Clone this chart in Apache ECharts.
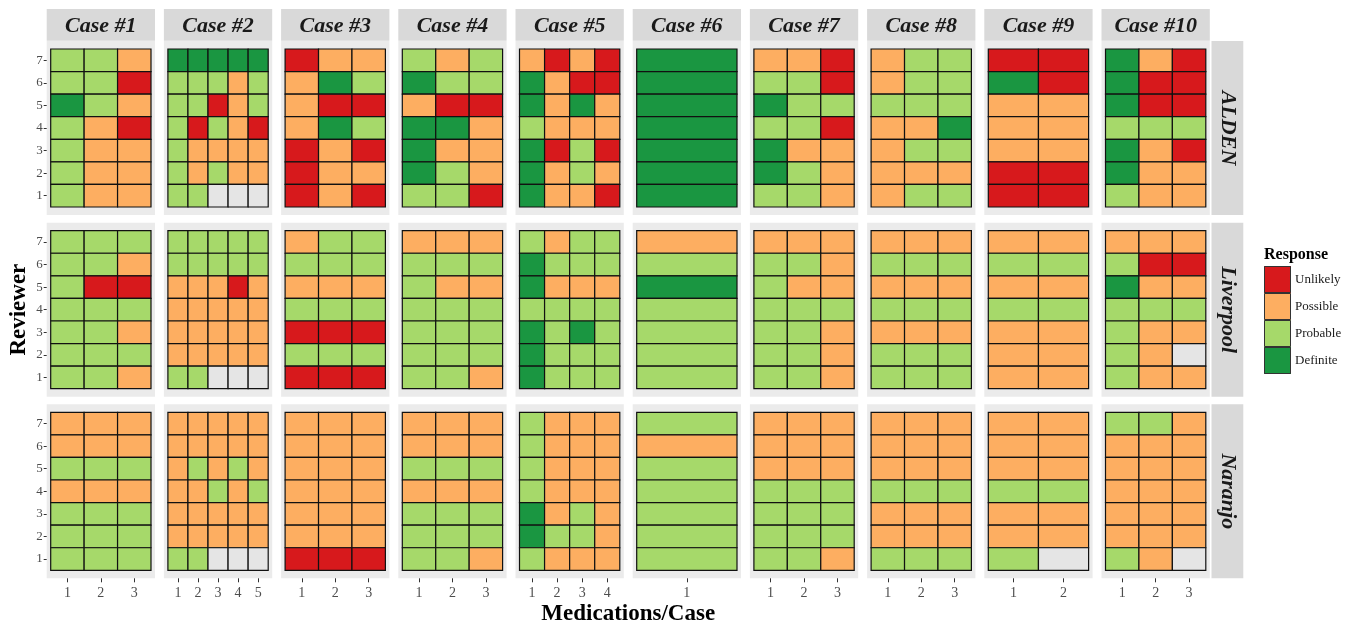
<!DOCTYPE html>
<html>
<head>
<meta charset="utf-8">
<script src="https://cdn.jsdelivr.net/npm/echarts@6/dist/echarts.min.js"></script>
<style>
html,body{margin:0;padding:0;background:#fff;}
#chart{width:1358px;height:629px;}
</style>
</head>
<body>
<div id="chart"></div>
<script>
// ---------------- DATA ----------------
const cases = ['Case #1','Case #2','Case #3','Case #4','Case #5','Case #6','Case #7','Case #8','Case #9','Case #10'];
const tools = ['ALDEN','Liverpool','Naranjo'];
const reviewers = [1,2,3,4,5,6,7];
const responses = ['Unlikely','Possible','Probable','Definite'];
// response codes: U=Unlikely, P=Possible, B=Probable, D=Definite, N=missing
const codeIndex = {U:0, P:1, B:2, D:3, N:4};
// each case: rows for reviewer 7 down to 1, one letter per medication
const aldenData = [
  ['BBP','BBU','DBP','BPU','BPP','BPP','BPP'],
  ['DDDDD','BBBPB','BBUPB','BUBPU','BPPPP','BPBPP','BBNNN'],
  ['UPP','PDB','PUU','PDB','UPU','UPP','UPU'],
  ['BPB','DBB','PUU','DDP','DPP','DBP','BBU'],
  ['PUPU','DPUU','DPDP','BPPP','DUBU','DPBP','DPPU'],
  ['D','D','D','D','D','D','D'],
  ['PPU','BBU','DBB','BBU','DPP','DBP','BBP'],
  ['PBB','PBB','BBB','PPD','PBB','PPP','PBB'],
  ['UU','DU','PP','PP','PP','UU','UU'],
  ['DPU','DUU','DUU','BBB','DPU','DPP','BPP']
];
const liverpoolData = [
  ['BBB','BBP','BUU','BBB','BBP','BBB','BBP'],
  ['BBBBB','BBBBB','PPPUP','PPPPP','PPPPP','PPPPP','BBNNN'],
  ['PBB','BBB','PPP','BBB','UUU','BBB','UUU'],
  ['PPP','BBB','BPP','BBB','BBB','BBB','BBP'],
  ['BPBB','DBBB','DPPP','BBBB','DBDB','DBBB','DBBB'],
  ['P','B','D','B','B','B','B'],
  ['PPP','BBP','BPP','BBB','BBP','BBP','BBP'],
  ['PPP','BBB','PPP','BBB','PPP','BBB','BBB'],
  ['PP','BB','PP','BB','PP','PP','PP'],
  ['PPP','BUU','DPP','BBB','BPP','BPN','BPP']
];
const naranjoData = [
  ['PPP','PPP','BBB','PPP','BBB','BBB','BBB'],
  ['PPPPP','PPPPP','PBPBP','PPBPB','PPPPP','PPPPP','BBNNN'],
  ['PPP','PPP','PPP','PPP','PPP','PPP','UUU'],
  ['PPP','PPP','BBB','PPP','BBB','BBB','BBP'],
  ['BPPP','BPPP','BPPP','BPPP','DPBP','DBBP','BPPP'],
  ['B','P','B','B','B','B','B'],
  ['PPP','PPP','PPP','BBB','BBB','BBB','BBP'],
  ['PPP','PPP','PPP','BBB','PPP','PPP','BBB'],
  ['PP','PP','PP','BB','PP','PP','BN'],
  ['BBP','PPP','PPP','PPP','PPP','PPP','BPN']
];
const medCounts = [3,5,3,3,4,1,3,3,2,3];
const toolData = [aldenData, liverpoolData, naranjoData];

// ---------------- STYLE / LAYOUT ----------------
const colors = ['#D7191C','#FDAE61','#A6D96A','#1A9641'];
const naColor = '#E5E5E5';
const serif = 'Liberation Serif';
const colLeft0 = 46.7, colPitch = 117.2, panelW = 108.3;
const rowTops = [41, 222.7, 404.3], panelH = 174;
const padX = 4, padY = 8;
const stripTop = 9, stripH = 31.7;
const rStripX = 1211.5, rStripW = 31.8;
const legLeft = 1264, legTop = 266, keySize = 27;

const grids = [], xAxes = [], yAxes = [], series = [], graphics = [];

toolData.forEach((td, r) => {
  cases.forEach((cname, c) => {
    const k = r * cases.length + c;
    const n = medCounts[c];
    const left = colLeft0 + c * colPitch;
    const top = rowTops[r];
    grids.push({left: left, top: top, width: panelW, height: panelH, show: true,
      backgroundColor: '#EBEBEB', borderWidth: 0, containLabel: false});
    const mx = padX * n / (panelW - 2 * padX);
    const my = padY * 7 / (panelH - 2 * padY);
    const ticks = [];
    for (let i = 1; i <= n; i++) ticks.push(i);
    const bottom = r === toolData.length - 1;
    const first = c === 0;
    xAxes.push({type: 'value', gridIndex: k, min: 0.5 - mx, max: n + 0.5 + mx,
      axisLine: {show: false}, splitLine: {show: false},
      axisTick: {show: bottom, customValues: ticks, length: 4, lineStyle: {color: '#333', width: 1}},
      axisLabel: {show: bottom, customValues: ticks, color: '#4D4D4D', fontFamily: serif, fontSize: 14, margin: 8}});
    yAxes.push({type: 'value', gridIndex: k, min: 0.5 - my, max: 7.5 + my,
      axisLine: {show: false}, splitLine: {show: false},
      axisTick: {show: first, customValues: reviewers, length: 3, lineStyle: {color: '#333', width: 1}},
      axisLabel: {show: first, customValues: reviewers, color: '#4D4D4D', fontFamily: serif, fontSize: 13, margin: 4}});
    const data = [];
    td[c].forEach((row, ri) => {
      const rev = 7 - ri;
      row.split('').forEach((ch, mi) => {
        data.push([mi + 1, rev, codeIndex[ch]]);
      });
    });
    series.push({type: 'custom', xAxisIndex: k, yAxisIndex: k, data: data,
      encode: {x: 0, y: 1}, silent: true,
      renderItem: function (params, api) {
        const x = api.value(0), y = api.value(1);
        const p1 = api.coord([x - 0.5, y + 0.5]);
        const p2 = api.coord([x + 0.5, y - 0.5]);
        return {type: 'rect',
          shape: {x: p1[0], y: p1[1], width: p2[0] - p1[0], height: p2[1] - p1[1]},
          style: {fill: api.visual('color'), stroke: '#111', lineWidth: 1.2}};
      }});
    if (r === 0) {
      graphics.push({type: 'rect', shape: {x: left, y: stripTop, width: panelW, height: stripH},
        style: {fill: '#D9D9D9'}, silent: true});
      graphics.push({type: 'text', x: left + panelW / 2, y: stripTop + stripH / 2 + 1,
        style: {text: cname, fill: '#1A1A1A', font: 'italic bold 22px "Liberation Serif"',
          textAlign: 'center', textVerticalAlign: 'middle'}, silent: true});
    }
  });
  graphics.push({type: 'rect', shape: {x: rStripX, y: rowTops[r], width: rStripW, height: panelH},
    style: {fill: '#D9D9D9'}, silent: true});
  graphics.push({type: 'text', x: rStripX + rStripW / 2, y: rowTops[r] + panelH / 2,
    rotation: -Math.PI / 2,
    style: {text: tools[r], fill: '#1A1A1A', font: 'italic bold 22px "Liberation Serif"',
      textAlign: 'center', textVerticalAlign: 'middle'}, silent: true});
});

// axis titles
graphics.push({type: 'text', x: 19, y: (rowTops[0] + rowTops[2] + panelH) / 2, rotation: Math.PI / 2,
  style: {text: 'Reviewer', fill: '#000', font: 'bold 23px "Liberation Serif"',
    textAlign: 'center', textVerticalAlign: 'middle'}, silent: true});
graphics.push({type: 'text', x: (colLeft0 + colLeft0 + 9 * colPitch + panelW) / 2, y: 614,
  style: {text: 'Medications/Case', fill: '#000', font: 'bold 23px "Liberation Serif"',
    textAlign: 'center', textVerticalAlign: 'middle'}, silent: true});
// legend title
graphics.push({type: 'text', x: legLeft, y: 255,
  style: {text: 'Response', fill: '#000', font: 'bold 16px "Liberation Serif"',
    textAlign: 'left', textVerticalAlign: 'middle'}, silent: true});
// legend key outlines
responses.forEach((name, i) => {
  graphics.push({type: 'rect', z: 100,
    shape: {x: legLeft + 0.5, y: legTop + i * keySize + 0.5, width: keySize - 1, height: keySize - 1},
    style: {fill: null, stroke: '#333', lineWidth: 1}, silent: true});
});

const option = {
  animation: false,
  backgroundColor: '#fff',
  grid: grids,
  xAxis: xAxes,
  yAxis: yAxes,
  visualMap: {
    type: 'piecewise', dimension: 2, seriesIndex: series.map((s, i) => i),
    pieces: responses.map((name, i) => ({value: i, label: name, color: colors[i]})),
    outOfRange: {color: naColor},
    orient: 'vertical', inverse: true, align: 'left', left: legLeft, top: legTop,
    itemWidth: keySize, itemHeight: keySize, itemGap: 0, itemSymbol: 'rect', textGap: 4,
    selectedMode: false, padding: 0,
    textStyle: {color: '#1A1A1A', fontFamily: serif, fontSize: 13}
  },
  series: series,
  graphic: graphics
};
const chart = echarts.init(document.getElementById('chart'));
chart.setOption(option);
</script>
</body>
</html>
